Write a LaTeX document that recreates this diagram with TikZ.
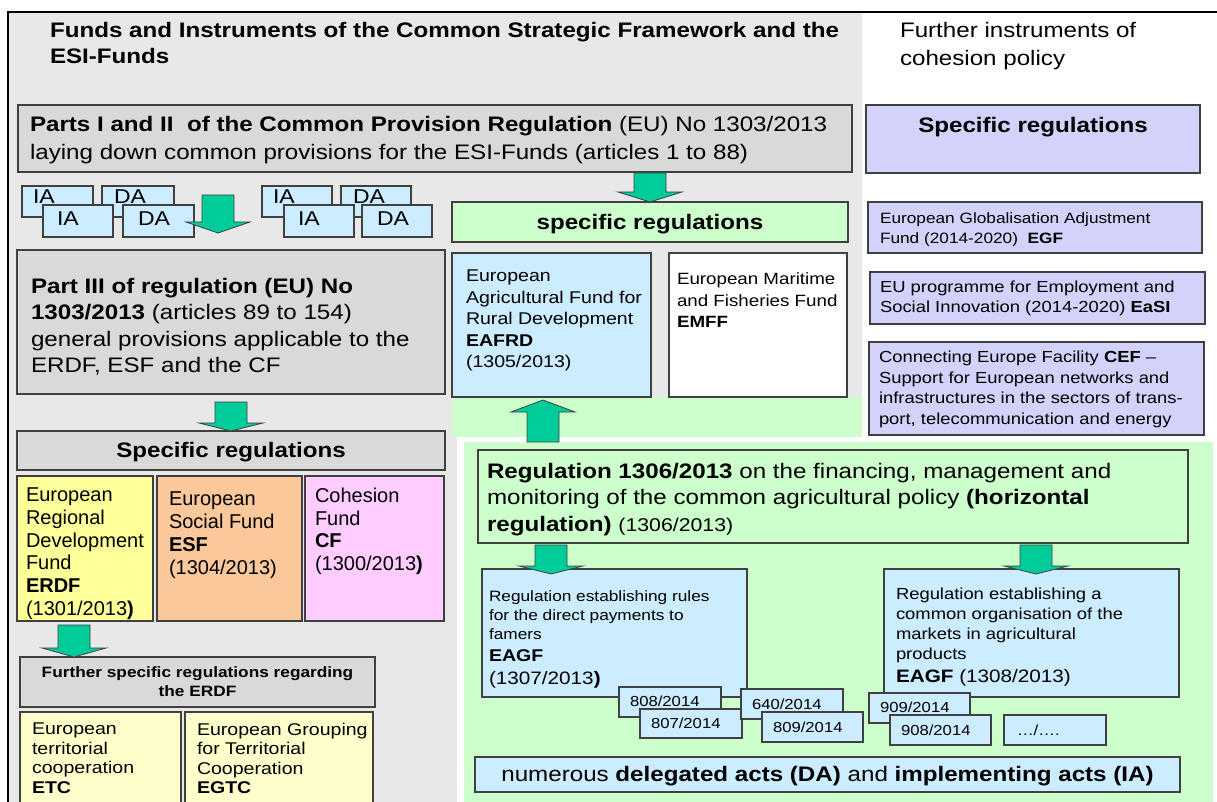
\documentclass[tikz,border=0pt]{standalone}
\usepackage{fontspec}
\setmainfont{Liberation Sans}[FakeStretch=1.15]
\newfontfamily\plainsans{Liberation Sans}
\usetikzlibrary{calc}

\definecolor{bggray}{RGB}{232,232,232}
\definecolor{boxgray}{RGB}{217,217,217}
\definecolor{bd}{RGB}{64,64,64}
\definecolor{lav}{RGB}{210,210,250}
\definecolor{mint}{RGB}{204,255,204}
\definecolor{sky}{RGB}{204,236,255}
\definecolor{lemon}{RGB}{255,255,153}
\definecolor{cream}{RGB}{255,255,204}
\definecolor{peach}{RGB}{250,200,155}
\definecolor{cfpink}{RGB}{255,204,255}
\definecolor{arrowgreen}{RGB}{0,204,153}

\newcommand{\fs}[2]{\fontsize{#1}{#2}\selectfont}
% box node: name, style, x1, y1, x2, y2 (pixel-like units, y downwards)
\newcommand{\rbox}[6]{\node[box,#2,minimum width={(#5-#3)*1pt},minimum height={(#6-#4)*1pt}] (#1) at (#3,#4) {};}
% broad block arrows: start, tip, head length
\newcommand{\fatdown}[3]{\draw[fat] ($#1+(-16,0)$) -- ($#2+(-16,-#3)$) -- ($#2+(-32,-#3)$) -- #2 -- ($#2+(32,-#3)$) -- ($#2+(16,-#3)$) -- ($#1+(16,0)$) -- cycle;}
\newcommand{\fatup}[3]{\draw[fat] ($#1+(-16,0)$) -- ($#2+(-16,#3)$) -- ($#2+(-32,#3)$) -- #2 -- ($#2+(32,#3)$) -- ($#2+(16,#3)$) -- ($#1+(16,0)$) -- cycle;}

\begin{document}
\begin{tikzpicture}[x=1pt,y=-1pt,
  box/.style={draw=bd,line width=1.3pt,inner sep=0pt,outer sep=0pt,anchor=north west},
  txt/.style={inner sep=0pt,outer sep=0pt,anchor=north west,align=left},
  ctxt/.style={inner sep=0pt,outer sep=0pt,anchor=north,align=center},
  ntxt/.style={inner sep=0pt,outer sep=0pt,anchor=west,font={\fs{14.5}{17}}},
  fat/.style={fill=arrowgreen,draw=bd,line width=0.8pt,line join=miter}]
\useasboundingbox (0,0) rectangle (1217,802);

% background panels and frame
\fill[bggray] (8,12) rectangle (862,437);
\fill[bggray] (8,437) rectangle (457,802);
\fill[mint] (452,397) rectangle (862,437);
\fill[mint] (464,442) rectangle (1213,802);
\draw[line width=2pt] (8,802) -- (8,12) -- (1217,12);

% column headings
\node[txt,font={\fs{21}{26}\bfseries}] (title) at (50,22)
  {Funds and Instruments of the Common Strategic Framework and the\\ESI-Funds};
\node[txt,font={\fs{21}{28}}] (furtherhead) at (900,22)
  {Further instruments of\\cohesion policy};

% common provisions
\rbox{cpr}{fill=boxgray}{18}{105}{852}{172}
\node[txt,font={\fs{21}{28}}] (cprtext) at ($(cpr.north west)+(12,11)$)
  {\textbf{Parts I and II\ \ of the Common Provision Regulation} (EU) No 1303/2013\\
   laying down common provisions for the ESI-Funds (articles 1 to 88)};

\rbox{rspec}{fill=lav}{866}{105}{1200}{173}
\node[ctxt,font={\fs{21}{26}\bfseries}] (rspectext) at ($(rspec.north)+(0,12)$) {Specific regulations};

% implementing and delegated acts, first group
\rbox{iaA}{fill=sky}{22}{186}{93}{217}
\node[txt,font={\fs{20}{24}}] (iaAt) at ($(iaA.north west)+(11,4)$) {IA};
\rbox{daA}{fill=sky}{102}{186}{174}{217}
\node[txt,font={\fs{20}{24}}] (daAt) at ($(daA.north west)+(12,4)$) {DA};
\rbox{iaB}{fill=sky}{43}{205}{113}{237}
\node[txt,font={\fs{20}{24}}] (iaBt) at ($(iaB.north west)+(14,7)$) {IA};
\rbox{daB}{fill=sky}{123}{205}{194}{237}
\node[txt,font={\fs{20}{24}}] (daBt) at ($(daB.north west)+(15,7)$) {DA};
% second group
\rbox{iaC}{fill=sky}{262}{186}{332}{217}
\node[txt,font={\fs{20}{24}}] (iaCt) at ($(iaC.north west)+(11,4)$) {IA};
\rbox{daC}{fill=sky}{341}{186}{411}{217}
\node[txt,font={\fs{20}{24}}] (daCt) at ($(daC.north west)+(12,4)$) {DA};
\rbox{iaD}{fill=sky}{284}{205}{354}{237}
\node[txt,font={\fs{20}{24}}] (iaDt) at ($(iaD.north west)+(14,7)$) {IA};
\rbox{daD}{fill=sky}{362}{205}{432}{237}
\node[txt,font={\fs{20}{24}}] (daDt) at ($(daD.north west)+(15,7)$) {DA};

% middle column
\rbox{spec}{fill=mint}{452}{202}{848}{242}
\node[ctxt,font={\fs{21}{26}\bfseries}] (spectext) at ($(spec.north)+(0,12)$) {specific regulations};

\rbox{eafrd}{fill=sky}{452}{253}{651}{397}
\node[txt,font={\fs{17}{21.5}}] (eafrdtext) at ($(eafrd.north west)+(14,17)$)
  {European\\Agricultural Fund for\\Rural Development\\\textbf{EAFRD}\\(1305/2013)};
\rbox{emff}{fill=white}{669}{253}{847}{397}
\node[txt,font={\fs{16.3}{21.5}}] (emfftext) at ($(emff.north west)+(8,20)$)
  {European Maritime\\and Fisheries Fund\\\textbf{EMFF}};

% right column
\rbox{egf}{fill=lav}{868}{202}{1202}{253}
\node[txt,font={\fs{15}{20}}] (egftext) at ($(egf.north west)+(12,11)$)
  {European Globalisation Adjustment\\Fund (2014-2020)\ \ \textbf{EGF}};
\rbox{easi}{fill=lav}{870}{272}{1205}{324}
\node[txt,font={\fs{16}{20}}] (easitext) at ($(easi.north west)+(10,9)$)
  {EU programme for Employment and\\Social Innovation (2014-2020) \textbf{EaSI}};
\rbox{cef}{fill=lav}{869}{342}{1204}{435}
\node[txt,font={\fs{16}{20.5}}] (ceftext) at ($(cef.north west)+(10,9)$)
  {Connecting Europe Facility \textbf{CEF} --\\Support for European networks and\\
   infrastructures in the sectors of trans-\\port, telecommunication and energy};

% left column
\rbox{part3}{fill=boxgray}{17}{250}{445}{394}
\node[txt,font={\fs{21}{26.5}}] (part3text) at ($(part3.north west)+(14,28)$)
  {\textbf{Part III of regulation (EU) No}\\\textbf{1303/2013} (articles 89 to 154)\\
   general provisions applicable to the\\ERDF, ESF and the CF};

\rbox{lspec}{fill=boxgray}{17}{431}{445}{470}
\node[ctxt,font={\fs{21}{26}\bfseries}] (lspectext) at ($(lspec.north)+(0,11)$) {Specific regulations};

\rbox{erdf}{fill=lemon}{17}{476}{153}{621}
\node[txt,font={\plainsans\fs{20}{22.7}}] (erdftext) at ($(erdf.north west)+(9,12)$)
  {European\\Regional\\Development\\Fund\\\textbf{ERDF}\\(1301/2013\textbf{)}};
\rbox{esf}{fill=peach}{157}{476}{302}{621}
\node[txt,font={\plainsans\fs{20}{23}}] (esftext) at ($(esf.north west)+(12,16)$)
  {European\\Social Fund\\\textbf{ESF}\\(1304/2013)};
\rbox{cf}{fill=cfpink}{305}{476}{444}{621}
\node[txt,font={\plainsans\fs{20}{22.7}}] (cftext) at ($(cf.north west)+(10,12)$)
  {Cohesion\\Fund\\\textbf{CF}\\(1300/2013\textbf{)}};

\rbox{furth}{fill=boxgray}{20}{657}{375}{707}
\node[ctxt,font={\fs{15}{19}\bfseries}] (furthtext) at ($(furth.north)+(0,10)$)
  {Further specific regulations regarding\\the ERDF};
\rbox{etc}{fill=cream}{20}{712}{181}{812}
\node[txt,font={\fs{17}{19.5}}] (etctext) at ($(etc.north west)+(12,11)$)
  {European\\territorial\\cooperation\\\textbf{ETC}};
\rbox{egtc}{fill=cream}{185}{712}{373}{812}
\node[txt,font={\fs{17}{19.5}}] (egtctext) at ($(egtc.north west)+(12,11)$)
  {European Grouping\\for Territorial\\Cooperation\\\textbf{EGTC}};

% agricultural policy
\rbox{reg}{fill=mint}{478}{450}{1188}{543}
\node[txt,font={\fs{21}{26.5}}] (regtext) at ($(reg.north west)+(9,13)$)
  {\textbf{Regulation 1306/2013} on the financing, management and\\
   monitoring of the common agricultural policy \textbf{(horizontal}\\
   \textbf{regulation)} {\fs{18.5}{20}(1306/2013)}};

\rbox{eagfa}{fill=sky}{482}{569}{747}{697}
\node[txt,font={\fs{15}{19}}] (eagfatext) at ($(eagfa.north west)+(7,22)$)
  {Regulation establishing rules\\for the direct payments to\\famers\\[3pt]
   {\fs{17}{19}\textbf{EAGF}}\\[4pt]{\fs{18}{20}(1307/2013\textbf{)}}};
\rbox{eagfb}{fill=sky}{884}{569}{1179}{697}
\node[txt,font={\fs{16}{20}}] (eagfbtext) at ($(eagfb.north west)+(12,19)$)
  {Regulation establishing a\\common organisation of the\\markets in agricultural\\products\\[3pt]
   {\fs{18}{20}\textbf{EAGF} (1308/2013)}};

\rbox{n808}{fill=sky}{619}{687}{721}{717}
\node[ntxt] (t808) at ($(n808.west)+(11,-1)$) {808/2014};
\rbox{n807}{fill=sky}{640}{709}{742}{738}
\node[ntxt] (t807) at ($(n807.west)+(11,0)$) {807/2014};
\rbox{n640}{fill=sky}{741}{689}{843}{719}
\node[ntxt] (t640) at ($(n640.west)+(11,0)$) {640/2014};
\rbox{n809}{fill=sky}{762}{712}{863}{742}
\node[ntxt] (t809) at ($(n809.west)+(11,0)$) {809/2014};
\rbox{n909}{fill=sky}{869}{693}{970}{723}
\node[ntxt] (t909) at ($(n909.west)+(11,-1)$) {909/2014};
\rbox{n908}{fill=sky}{890}{715}{991}{745}
\node[ntxt] (t908) at ($(n908.west)+(11,0)$) {908/2014};
\rbox{ndots}{fill=sky}{1004}{715}{1106}{745}
\node[ntxt] (tdots) at ($(ndots.west)+(13,0)$) {\dots/\dots.};

\rbox{numerous}{fill=sky}{475}{757}{1180}{792}
\node[ctxt,font={\fs{21}{26}}] (numeroustext) at ($(numerous.north)+(0,9)$)
  {numerous \textbf{delegated acts (DA)} and \textbf{implementing acts (IA)}};

% block arrows
\coordinate (a0s) at (218,195);
\coordinate (a0t) at ($(part3.north west)+(201,-17)$);
\fatdown{(a0s)}{(a0t)}{11}
\coordinate (a1s) at ($(cpr.south -| spec.north)+(0,1)$);
\fatdown{(a1s)}{(spec.north)}{10}
\coordinate (a2s) at ($(part3.south)+(0,8)$);
\fatdown{(a2s)}{(lspec.north)}{8}
\coordinate (a3s) at ($(erdf.south)+(-11,4)$);
\coordinate (a3t) at (a3s |- furth.north);
\fatdown{(a3s)}{(a3t)}{9}
\coordinate (a4s) at ($(reg.south west)+(73,2)$);
\coordinate (a4t) at ($(a4s |- eagfa.north)+(0,5)$);
\fatdown{(a4s)}{(a4t)}{8}
\coordinate (a5s) at ($(reg.south west)+(558,2)$);
\coordinate (a5t) at ($(a5s |- eagfb.north)+(0,5)$);
\fatdown{(a5s)}{(a5t)}{8}
\coordinate (a6s) at ($(reg.north west)+(65,-8)$);
\coordinate (a6t) at ($(a6s |- eafrd.south)+(0,3)$);
\fatup{(a6s)}{(a6t)}{12}
\end{tikzpicture}
\end{document}
